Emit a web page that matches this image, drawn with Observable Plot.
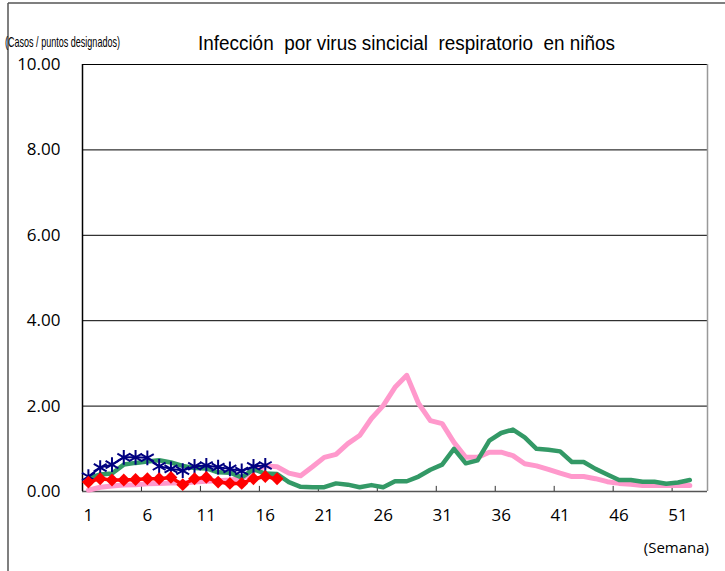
<!DOCTYPE html>
<html>
<head>
<meta charset="utf-8">
<script src="https://cdn.jsdelivr.net/npm/d3@7"></script>
<script src="https://cdn.jsdelivr.net/npm/@observablehq/plot@0.6"></script>
<style>
  html, body { margin: 0; padding: 0; background: #fff; }
</style>
</head>
<body>
<div id="chart"></div>
<script>
// ---- Data ----
const weeks = d3.range(1, 53);
const xTickLabels = [1, 6, 11, 16, 21, 26, 31, 36, 41, 46, 51];
const xTickMarks = [5.5, 10.5, 15.5, 20.5, 25.5, 30.5, 35.5, 40.5, 45.5, 50.5];
const yTicks = [0, 2, 4, 6, 8, 10];
const yGrid = [2, 4, 6, 8, 10];

// Pink series (weeks 1-52)
const pinkValues = [0.03, 0.10, 0.13, 0.15, 0.16, 0.18, 0.19, 0.20, 0.20, 0.22,
  0.24, 0.25, 0.27, 0.30, 0.48, 0.60, 0.58, 0.43, 0.37, 0.58,
  0.80, 0.87, 1.12, 1.31, 1.71, 2.01, 2.44, 2.72, 2.06, 1.66,
  1.59, 1.15, 0.80, 0.80, 0.92, 0.92, 0.84, 0.65, 0.60, 0.52,
  0.43, 0.35, 0.35, 0.30, 0.23, 0.19, 0.17, 0.14, 0.14, 0.14,
  0.14, 0.14];
// Green series (weeks 1-52)
const greenValues = [0.30, 0.40, 0.42, 0.63, 0.67, 0.70, 0.73, 0.68, 0.60, 0.55,
  0.54, 0.45, 0.44, 0.33, 0.52, 0.42, 0.41, 0.22, 0.11, 0.10,
  0.10, 0.19, 0.16, 0.10, 0.15, 0.10, 0.24, 0.24, 0.35, 0.51,
  0.63, 1.00, 0.66, 0.73, 1.19, 1.37, 1.45, 1.27, 1.00, 0.98,
  0.94, 0.69, 0.69, 0.53, 0.40, 0.27, 0.27, 0.23, 0.23, 0.18,
  0.21, 0.27];
// Navy series with asterisks (weeks 1-16)
const navyValues = [0.35, 0.56, 0.63, 0.80, 0.80, 0.79, 0.59, 0.53, 0.49, 0.59,
  0.61, 0.57, 0.53, 0.48, 0.59, 0.61];
// Red series with diamonds (weeks 1-17)
const redValues = [0.22, 0.30, 0.27, 0.27, 0.28, 0.30, 0.30, 0.33, 0.16, 0.30,
  0.33, 0.22, 0.19, 0.19, 0.30, 0.35, 0.30];

const toRows = vals => vals.map((v, i) => ({week: weeks[i], value: v}));
const pink = toRows(pinkValues);
const green = toRows(greenValues);
const navy = toRows(navyValues);
const red = toRows(redValues);

const numFont = "'Open Sans', 'Noto Sans', sans-serif";

const chart = Plot.plot({
  width: 725,
  height: 571,
  marginLeft: 82,
  marginRight: 18,
  marginTop: 64,
  marginBottom: 80,
  x: {domain: [0.5, 53.5], axis: null},
  y: {domain: [0, 10], axis: null},
  style: {background: "#fff", fontFamily: numFont, overflow: "visible"},
  marks: [
    Plot.ruleY(yGrid, {y: d => d, stroke: "#000", strokeWidth: 1}),
    Plot.ruleY([0], {y: d => d, stroke: "#555", strokeWidth: 1.5}),
    Plot.ruleX([0.5], {x: d => d, stroke: "#000", strokeWidth: 1.5}),
    Plot.ruleX([53.5], {x: d => d, stroke: "#999", strokeWidth: 1.5}),
    Plot.ruleX(xTickMarks, {x: d => d, y1: 0, y2: 0.12, stroke: "#333", strokeWidth: 1}),
    Plot.text(xTickLabels, {x: d => d, y: 0, dy: 24, text: d => String(d), fontSize: 17, fill: "#000"}),
    Plot.text(yTicks, {x: 0.5, y: d => d, dx: -22, textAnchor: "end", text: d => d.toFixed(2), fontSize: 17, fill: "#000"}),
    Plot.line(pink, {x: "week", y: "value", stroke: "#ff99cc", strokeWidth: 5, strokeLinejoin: "round"}),
    Plot.line(green, {x: "week", y: "value", stroke: "#339966", strokeWidth: 4.5, strokeLinejoin: "round"}),
    Plot.line(navy, {x: "week", y: "value", stroke: "#000080", strokeWidth: 2}),
    Plot.dot(navy, {x: "week", y: "value", symbol: "asterisk", r: 7, stroke: "#000080", strokeWidth: 2}),
    Plot.line(red, {x: "week", y: "value", stroke: "#ff0000", strokeWidth: 3.5}),
    Plot.dot(red, {x: "week", y: "value", symbol: "diamond2", r: 5.8, fill: "#ff0000", stroke: "none"})
  ]
});

const svg = d3.select(chart);
// outer frame lines
svg.append("line").attr("x1", 8).attr("x2", 8).attr("y1", 3).attr("y2", 571)
  .attr("stroke", "#555").attr("stroke-width", 1.5);
svg.append("line").attr("x1", 8).attr("x2", 725).attr("y1", 3).attr("y2", 3)
  .attr("stroke", "#555").attr("stroke-width", 1.5);
// title
svg.append("text").attr("x", 198).attr("y", 50).attr("text-anchor", "start")
  .attr("font-family", "'Liberation Sans', Arial, sans-serif").attr("font-size", 20)
  .attr("textLength", 417).attr("lengthAdjust", "spacingAndGlyphs").attr("fill", "#000")
  .text("Infección  por virus sincicial  respiratorio  en niños");
// unit label
svg.append("text").attr("x", 5).attr("y", 47).attr("text-anchor", "start")
  .attr("font-family", "'Liberation Sans', Arial, sans-serif").attr("font-size", 15)
  .attr("textLength", 115).attr("lengthAdjust", "spacingAndGlyphs").attr("fill", "#000")
  .text("(Casos / puntos designados)");
// x axis unit
svg.append("text").attr("x", 709).attr("y", 553).attr("text-anchor", "end")
  .attr("font-family", numFont).attr("font-size", 15).attr("fill", "#000")
  .text("(Semana)");

document.getElementById("chart").appendChild(chart);
</script>
</body>
</html>
